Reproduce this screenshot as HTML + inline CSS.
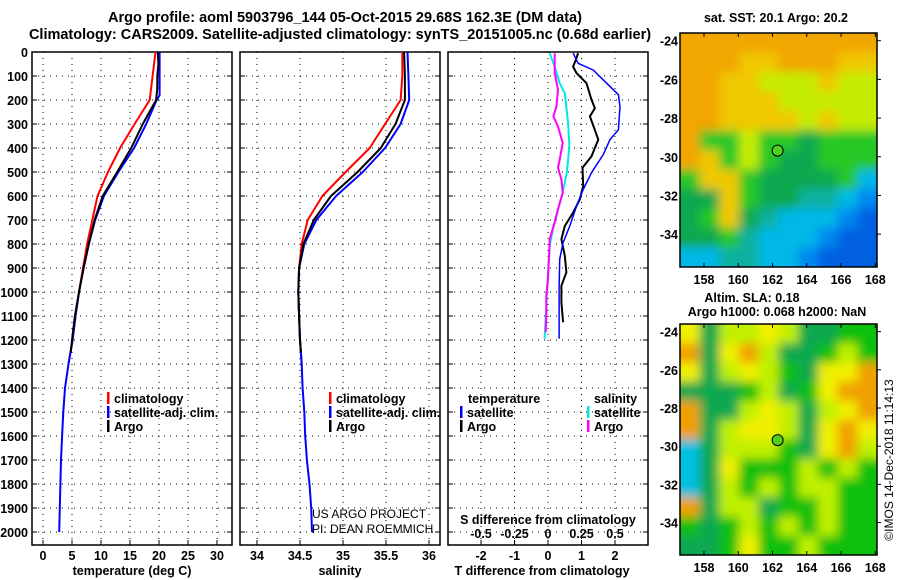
<!DOCTYPE html>
<html><head><meta charset="utf-8"><style>
html,body{margin:0;padding:0;background:#fff;}
svg{display:block;font-family:"Liberation Sans",sans-serif;font-weight:bold;}
</style></head><body>
<svg id="chart" width="900" height="580" viewBox="0 0 900 580" xmlns="http://www.w3.org/2000/svg">
<defs>
<filter id="blurA" filterUnits="userSpaceOnUse" x="660" y="20" width="240" height="260"><feGaussianBlur stdDeviation="5"/></filter>
<filter id="blurB" filterUnits="userSpaceOnUse" x="660" y="310" width="240" height="260"><feGaussianBlur stdDeviation="5"/></filter>
<clipPath id="clipA"><rect x="680" y="33" width="197" height="234"/></clipPath>
<clipPath id="clipB"><rect x="680" y="324" width="197" height="231"/></clipPath>
</defs>
<text x="345" y="22" font-size="14.5" text-anchor="middle">Argo profile: aoml 5903796_144 05-Oct-2015 29.68S 162.3E (DM data)</text>
<text x="340" y="39" font-size="14.5" text-anchor="middle">Climatology: CARS2009. Satellite-adjusted climatology: synTS_20151005.nc (0.68d earlier)</text>
<g id="p1"></g>
<g id="p2"></g>
<g id="p3"></g>
<g id="maps"></g>
</svg>
<script>
// ---- data ----
const tClimDepth=[0,100,200,300,400,500,600,700,800,900,1000,1100,1200,1300];
const tClim=[19.4,18.9,18.4,15.8,13.3,11.2,9.4,8.5,7.6,6.9,6.2,5.6,5.1,4.4];
const tSatDepth=[0,100,180,200,300,400,500,600,700,800,900,1000,1100,1200,1300,1400,1500,1600,1700,1800,1900,2000];
const tSat=[20.1,20.1,20.1,19.6,17.8,15.7,13.0,10.5,9.0,7.9,7.0,6.2,5.6,5.1,4.4,3.8,3.5,3.3,3.1,3.0,2.9,2.8];
const tArgoDepth=[0,50,100,150,200,300,400,500,600,700,800,900,1000,1100,1200,1250];
const tArgo=[19.8,19.9,19.7,19.7,19.5,17.2,15.2,12.8,10.3,8.9,7.9,7.0,6.2,5.5,5.0,4.8];
const sClimDepth=[0,100,200,300,400,500,600,700,800,900,1000,1100,1200,1300];
const sClim=[35.69,35.69,35.67,35.49,35.31,35.03,34.76,34.59,34.52,34.49,34.48,34.49,34.50,34.52];
const sSatDepth=[0,100,200,300,400,500,600,700,800,900,1000,1100,1200,1300,1400,1500,1600,1700,1800,1900,2000];
const sSat=[35.75,35.76,35.77,35.67,35.49,35.23,34.92,34.69,34.55,34.49,34.48,34.49,34.50,34.52,34.53,34.55,34.56,34.58,34.61,34.63,34.64];
const sArgoDepth=[0,100,200,300,400,500,600,700,800,900,1000,1100,1200,1250];
const sArgo=[35.71,35.72,35.72,35.61,35.44,35.17,34.86,34.66,34.54,34.49,34.48,34.49,34.50,34.51];
const dTArgoDepth=[5,33,61,88,130,199,234,268,365,434,482,558,614,669,725,780,849,918,974,1043,1126];
const dTArgo=[0.9,0.83,0.75,0.85,1.15,1.3,1.4,1.25,1.5,1.3,1.03,1.05,0.95,0.75,0.5,0.4,0.5,0.55,0.4,0.4,0.45];
const dTSatDepth=[5,47,75,130,178,227,324,365,427,503,573,642,725,794,863,988,1195];
const dTSat=[0.75,0.9,1.35,1.75,2.1,2.15,2.1,1.85,1.65,1.3,1.05,0.85,0.65,0.45,0.35,0.33,0.33];
const dSSatDepth=[5,61,130,172,296,393,503,586,656,725,808,918,1057,1195];
const dSSat=[0.0125,0.05,0.0875,0.125,0.15,0.16,0.14,0.11,0.075,0.04,0.0125,0,-0.0125,-0.025];
const dSArgoDepth=[5,88,158,227,268,310,379,448,482,531,586,656,711,780,849,946,1015,1098,1167];
const dSArgo=[0.05,0.05,0.075,0.0625,0.04,0.075,0.11,0.0875,0.075,0.1,0.11,0.075,0.05,0.0125,0.008,0,-0.0125,-0.0125,-0.0175];
const depthTicks=[0,100,200,300,400,500,600,700,800,900,1000,1100,1200,1300,1400,1500,1600,1700,1800,1900,2000];
const tTicks=[0,5,10,15,20,25,30];
const sTicks=[34,34.5,35,35.5,36];
const sTickLabels=["34","34.5","35","35.5","36"];
const dtTicks=[-2,-1,0,1,2];
const dsTicks=[-0.5,-0.25,0,0.25,0.5];
const dsTickLabels=["-0.5","-0.25","0","0.25","0.5"];
const sstGrid=["OOOOOOOOOO","OOOYYOOOYY","OOYYLLLYLL","OOYYYLLLLL","OOYYYYLYLL","OGGLGGDGGG","OYGLGDDGGG","GYYGDDDDGC","DDYGDDTTCB","DGYDTCCCBK","DDGTCCCBKK","CCTTCCBKKK"];
const slaGrid=["YDLLYLDDGG","ODYOLDDGLG","YDLYLGDYYO","DDDGLDGYOO","ODDLYLDLYO","ODLYYLDYOY","CDLLLGDYOL","CDYGGGLGLG","CDLGLGLLGG","ODLLDGGLGG","GDGLGLGLGG","DDGYGGLGGG"];
const mapLonTicks=[158,160,162,164,166,168];
const mapLatTicks=[-24,-26,-28,-30,-32,-34];
const argoLon=162.3, argoLat=-29.68;

const NS="http://www.w3.org/2000/svg";
function mk(tag,attrs,parent){const e=document.createElementNS(NS,tag);for(const k in attrs)e.setAttribute(k,attrs[k]);parent.appendChild(e);return e;}
const Y0=52,YS=0.24;
const yD=d=>Y0+d*YS;
const TOP=52,BOT=545;

function panel(g,x0,x1,xf,ticks,labels,name){
  mk('rect',{x:x0,y:TOP,width:x1-x0,height:BOT-TOP,fill:'none',stroke:'#000','stroke-width':1.5},g);
  ticks.forEach((t,i)=>{const x=xf(t);
    const l=mk('line',{x1:x,x2:x,y1:TOP,y2:BOT,stroke:'#000','stroke-dasharray':'1,5','stroke-width':1},g);
    
    mk('line',{x1:x,x2:x,y1:BOT,y2:BOT-5,stroke:'#000'},g);
    if(labels){const tx=mk('text',{x:x,y:BOT+15,'font-size':12.5,'text-anchor':'middle'},g);tx.textContent=labels[i];
      }
  });
  depthTicks.forEach(d=>{const y=yD(d);
    mk('line',{x1:x0,x2:x1,y1:y,y2:y,stroke:'#000','stroke-dasharray':'1,5'},g);
    mk('line',{x1:x0,x2:x0+5,y1:y,y2:y,stroke:'#000'},g);
    mk('line',{x1:x1-5,x2:x1,y1:y,y2:y,stroke:'#000'},g);});
}
function line(g,xs,ds,xf,col,w,name){
  const pts=xs.map((v,i)=>xf(v).toFixed(1)+','+yD(ds[i]).toFixed(1)).join(' ');
  const p=mk('polyline',{points:pts,fill:'none',stroke:col,'stroke-width':w,'stroke-linejoin':'round'},g);
  
}
function txt(g,x,y,s,size,anchor,name,extra){const t=mk('text',Object.assign({x:x,y:y,'font-size':size,'text-anchor':anchor||'start'},extra||{}),g);t.textContent=s;
  return t;}
function leg(g,x,y,col,label,name){mk('rect',{x:x,y:y-11,width:2.5,height:12,fill:col},g);txt(g,x+7,y,label,12.5,'start',name);}

// panel 1
const p1=document.getElementById('p1');
const xT=v=>43+v*5.8;
panel(p1,32,232,xT,tTicks,tTicks.map(String),'temp-axis');
depthTicks.forEach(d=>txt(p1,28,yD(d)+5,String(d),12.5,'end','depth-tick-label'));
line(p1,tClim,tClimDepth,xT,'#f00',2,'temp-climatology-line');
line(p1,tSat,tSatDepth,xT,'#00f',2,'temp-satellite-line');
line(p1,tArgo,tArgoDepth,xT,'#000',2,'temp-argo-line');
leg(p1,107,403,'#f00','climatology','legend-climatology');
leg(p1,107,417,'#00f','satellite-adj. clim.','legend-satellite');
leg(p1,107,431,'#000','Argo','legend-argo');
txt(p1,132,575,'temperature (deg C)',12.5,'middle','x-axis-title-temperature');

// panel 2
const p2=document.getElementById('p2');
const xS=v=>257+(v-34)*86;
panel(p2,240,440,xS,sTicks,sTickLabels,'salinity-axis');
line(p2,sClim,sClimDepth,xS,'#f00',2,'sal-climatology-line');
line(p2,sSat,sSatDepth,xS,'#00f',2,'sal-satellite-line');
line(p2,sArgo,sArgoDepth,xS,'#000',2,'sal-argo-line');
leg(p2,329,403,'#f00','climatology','legend-climatology');
leg(p2,329,417,'#00f','satellite-adj. clim.','legend-satellite');
leg(p2,329,431,'#000','Argo','legend-argo');
txt(p2,312,518,'US ARGO PROJECT',12,'start','credit-project',{'font-weight':'normal'});
txt(p2,312,533,'PI: DEAN ROEMMICH',12,'start','credit-pi',{'font-weight':'normal'});
txt(p2,340,575,'salinity',12.5,'middle','x-axis-title-salinity');

// panel 3
const p3=document.getElementById('p3');
const xDT=v=>548+v*33.5;
const xDS=v=>548+v*134;
panel(p3,448,648,xDT,dtTicks,dtTicks.map(String),'tdiff-axis');
dsTicks.forEach((v,i)=>txt(p3,xDS(v),538,dsTickLabels[i],12.5,'middle','sdiff-tick-label'));
txt(p3,548,524,'S difference from climatology',12.5,'middle','sdiff-axis-title');
line(p3,dSSat,dSSatDepth,xDS,'#00e8e8',2,'sdiff-satellite-line');
line(p3,dSArgo,dSArgoDepth,xDS,'#f0f',2,'sdiff-argo-line');
line(p3,dTArgo,dTArgoDepth,xDT,'#000',2,'tdiff-argo-line');
line(p3,dTSat,dTSatDepth,xDT,'#00f',1.5,'tdiff-satellite-line');
txt(p3,468,403,'temperature',12.5,'start','legend-temperature-header');
leg(p3,460,417,'#00f','satellite','legend-t-satellite');
leg(p3,460,431,'#000','Argo','legend-t-argo');
txt(p3,594,403,'salinity',12.5,'start','legend-salinity-header');
leg(p3,587,417,'#00e8e8','satellite','legend-s-satellite');
leg(p3,587,431,'#f0f','Argo','legend-s-argo');
txt(p3,542,575,'T difference from climatology',12.5,'middle','x-axis-title-tdiff');

// maps
const colA={O:'#f2a600',Y:'#f0c800',L:'#c4ec00',G:'#28c828',D:'#10a850',T:'#10b0a0',C:'#00b8e8',B:'#0088f0',K:'#0060e0'};
const colB={O:'#f0a000',Y:'#f0f000',L:'#c0f000',G:'#10c010',D:'#10a850',C:'#00c0e0'};
const mg=document.getElementById('maps');
function drawMap(y0,h,grid,cols,clip,blur,name){
  const x0=680,w=197;
  const lonX=v=>x0+(v-156.6)*(w/11.5);
  const latY=v=>y0+(-23.6-v)*(h/12.1);
  const g=mk('g',{'clip-path':'url(#'+clip+')'},mg);
  
  const gi=mk('g',{filter:'url(#'+blur+')'},g);
  const cw=w/10,ch=h/12;
  grid.forEach((row,r)=>{for(let c=0;c<row.length;c++){
    mk('rect',{x:x0+c*cw-(c==0?12:0),y:y0+r*ch-(r==0?12:0),width:cw+(c==0||c==9?12:0)+0.5,height:ch+(r==0||r==11?12:0)+0.5,fill:cols[row[c]]},gi);}});
  mk('rect',{x:x0,y:y0,width:w,height:h,fill:'none',stroke:'#000','stroke-width':1.5},mg);
  mapLonTicks.forEach(v=>{const x=lonX(v);mk('line',{x1:x,x2:x,y1:y0+h,y2:y0+h-4,stroke:'#000'},mg);
    mk('line',{x1:x,x2:x,y1:y0,y2:y0+4,stroke:'#000'},mg);
    txt(mg,x,y0+h+17,String(v),12.5,'middle',name+'-lon-label');});
  mapLatTicks.forEach(v=>{const y=latY(v);mk('line',{x1:x0+w,x2:x0+w+4,y1:y,y2:y,stroke:'#000'},mg);
    txt(mg,x0-2,y+5,String(v),12.5,'end',name+'-lat-label');});
  const c=mk('circle',{cx:lonX(argoLon),cy:latY(argoLat),r:5.5,fill:'#50d020',stroke:'#000','stroke-width':1},mg);
  
}
drawMap(33,234,sstGrid,colA,'clipA','blurA','sst-map');
drawMap(324,231,slaGrid,colB,'clipB','blurB','sla-map');
txt(mg,776,22,'sat. SST: 20.1 Argo: 20.2',12.5,'middle','sst-map-title');
txt(mg,752,302,'Altim. SLA: 0.18',12.5,'middle','sla-map-title');
txt(mg,777,316,'Argo h1000: 0.068 h2000: NaN',12.5,'middle','sla-map-subtitle');
txt(mg,0,0,'©IMOS 14-Dec-2018 11:14:13',12,'middle','timestamp',{transform:'translate(893,460) rotate(-90)','font-weight':'normal'});
</script>
</body></html>
